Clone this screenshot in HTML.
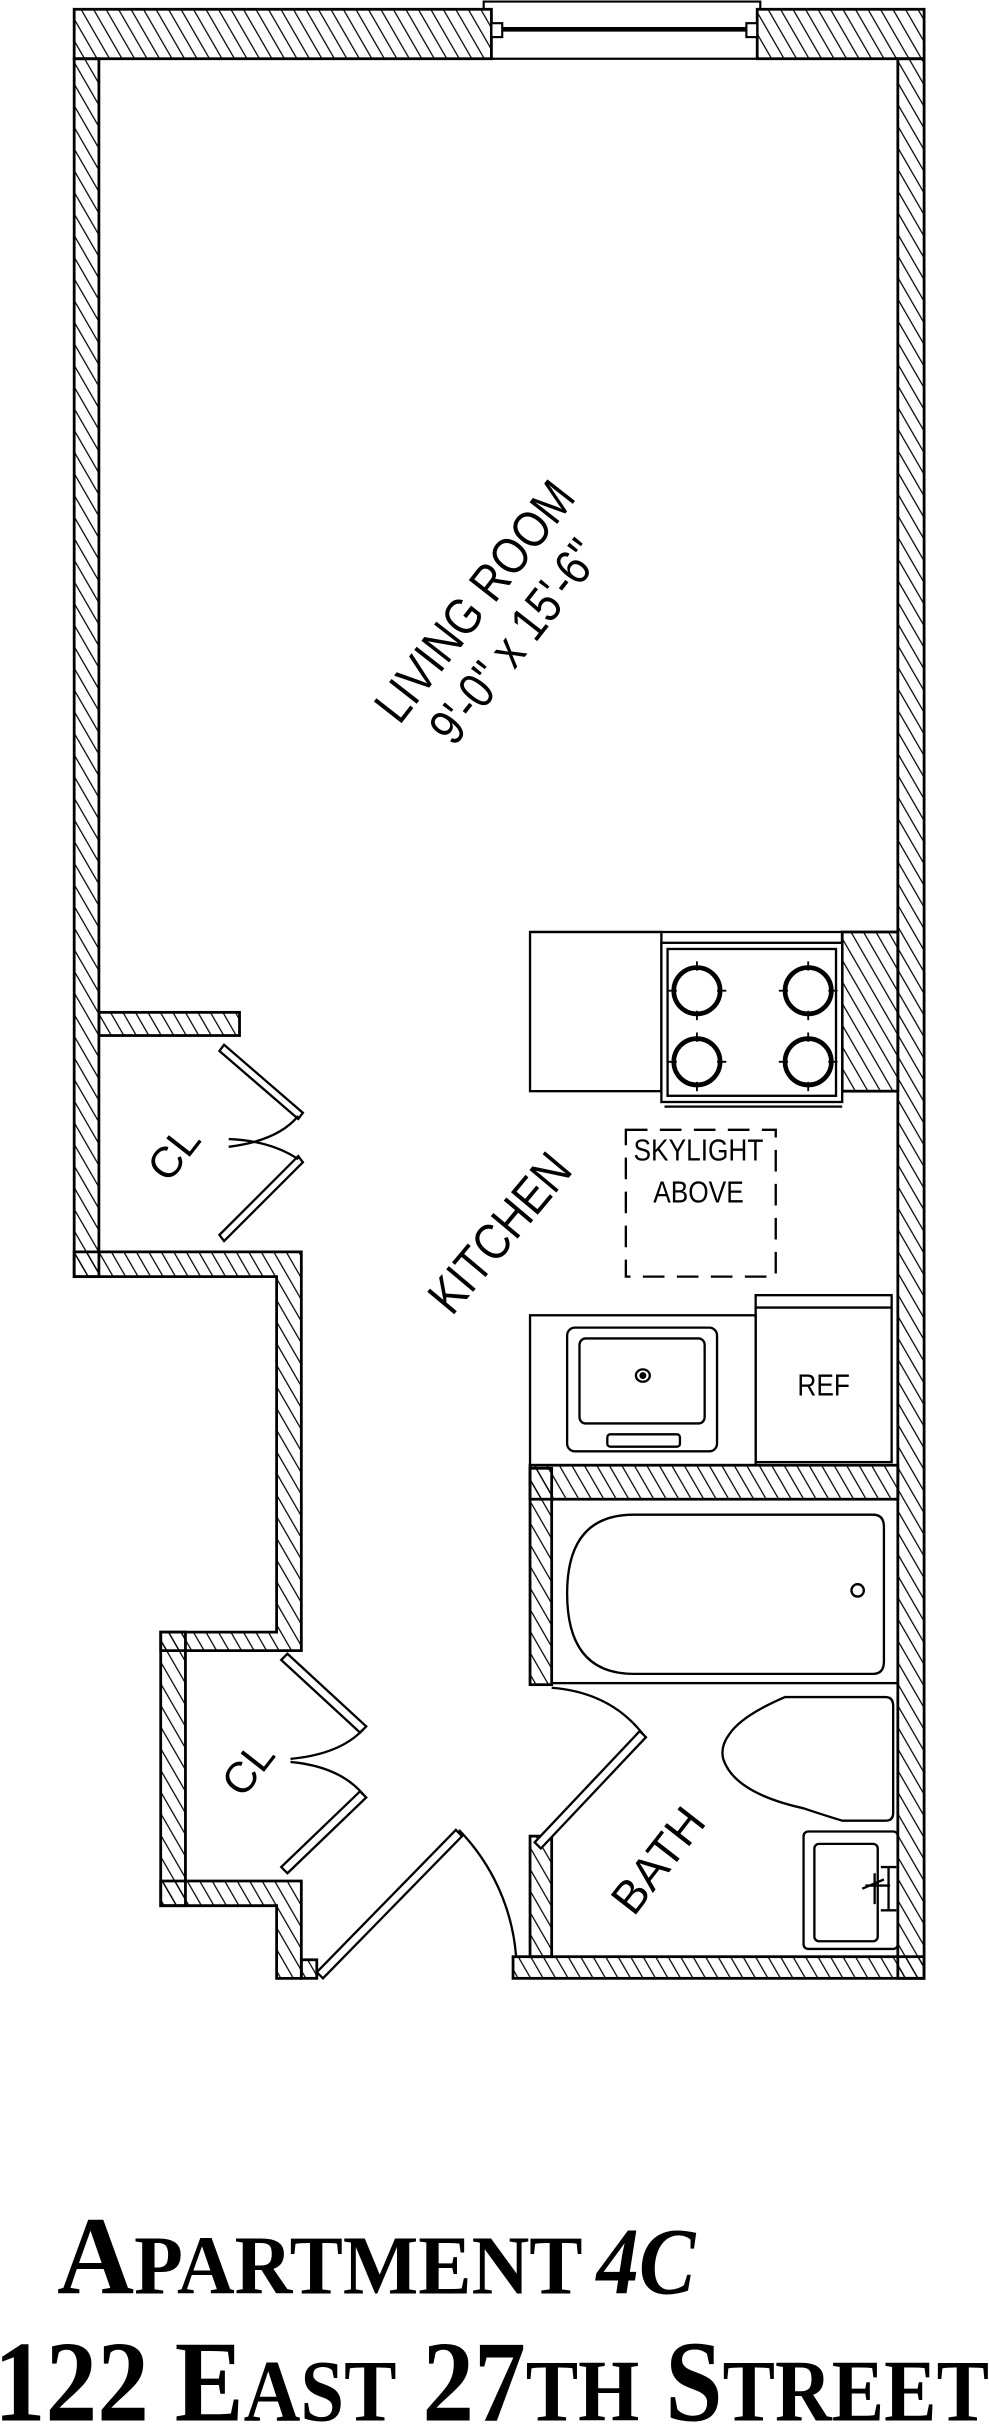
<!DOCTYPE html>
<html><head><meta charset="utf-8"><style>
html,body{margin:0;padding:0;background:#fff;}
svg{display:block;}
</style></head><body>
<svg width="989" height="2425" viewBox="0 0 640 1569" preserveAspectRatio="none" xmlns="http://www.w3.org/2000/svg">
<defs>
<pattern id="h" patternUnits="userSpaceOnUse" width="7" height="7" patternTransform="rotate(-30)">
<line x1="0" y1="0" x2="0" y2="7" stroke="#000" stroke-width="1.6"/>
</pattern>
</defs>
<rect width="640" height="1569" fill="#fff"/>
<g stroke="#000" stroke-width="1.8" fill="url(#h)">
<rect x="48" y="6" width="270" height="32"/>
<rect x="490" y="6" width="108" height="32"/>
<rect x="48" y="38" width="16" height="788"/>
<rect x="581" y="38" width="17" height="1242"/>
<rect x="64" y="655" width="91" height="15"/>
<path d="M48 810 H195 V1068 H104 V1056 H179 V826 H48 Z"/>
<rect x="104" y="1056" width="16" height="177"/>
<path d="M104 1217 H195 V1280 H179 V1233 H104 Z"/>
<rect x="195" y="1268" width="10" height="12"/>
<rect x="332" y="1266" width="266" height="14"/>
<rect x="343" y="950" width="14" height="140"/>
<rect x="343" y="1188" width="14" height="78"/>
<rect x="343" y="948" width="238" height="22"/>
<rect x="545" y="603" width="36" height="103"/>
</g>
<g stroke="#000" fill="none" stroke-width="1.4">
<path d="M313 6 V1 H492 V6"/>
<line x1="318" y1="38" x2="490" y2="38"/>
<line x1="318" y1="6" x2="318" y2="38"/>
<line x1="490" y1="6" x2="490" y2="38"/>
<line x1="325" y1="19" x2="483" y2="19" stroke-width="3"/>
<rect x="318" y="15" width="7" height="9" fill="#fff"/>
<rect x="483" y="15" width="7" height="9" fill="#fff"/>
</g>
<g stroke="#000" fill="none" stroke-width="1.5">
<rect x="343" y="603" width="85" height="103" fill="#fff"/>
<line x1="343" y1="603" x2="545" y2="603"/>
<rect x="428" y="610" width="117" height="103" fill="#fff"/>
<rect x="432" y="614" width="109" height="95"/>
<line x1="430" y1="716" x2="545" y2="716"/>
<g stroke-width="3">
<circle cx="451" cy="641" r="15"/><circle cx="523" cy="641" r="15"/>
<circle cx="451" cy="687" r="15"/><circle cx="523" cy="687" r="15"/>
</g>
<g stroke-width="1.2">
<path d="M451 622v6M451 654v6M432 641h6M464 641h6M523 622v6M523 654v6M504 641h6M536 641h6M451 668v6M451 700v6M432 687h6M464 687h6M523 668v6M523 700v6M504 687h6M536 687h6"/>
</g>
<rect x="405" y="731" width="97" height="95" stroke-dasharray="14 8"/>
<rect x="343" y="851" width="146" height="97"/>
<rect x="367" y="859" width="97" height="80" rx="5"/>
<rect x="375" y="866" width="81" height="55" rx="4"/>
<ellipse cx="416" cy="890" rx="4.5" ry="4"/>
<circle cx="416" cy="890" r="1.5" fill="#000"/>
<rect x="393" y="928" width="47" height="8" rx="2"/>
<rect x="489" y="838" width="88" height="108"/>
<line x1="489" y1="846" x2="577" y2="846"/>
<rect x="357" y="970" width="224" height="119"/>
<path d="M410 980 H565 Q572 980 572 988 V1075 Q572 1083 565 1083 H410 Q367 1083 367 1031 Q367 980 410 980 Z"/>
<ellipse cx="555" cy="1029" rx="4" ry="4"/>
<path d="M508 1098 H573 Q578 1098 578 1104 V1173 Q578 1178 573 1178 H545 Q535 1175 520 1170 Q475 1160 468 1138 Q466 1130 472 1122 Q480 1110 508 1098 Z"/>
<rect x="520" y="1185" width="61" height="76" rx="3"/>
<rect x="527" y="1193" width="41" height="63" rx="3"/>
<path d="M560 1220 H576 M566 1212 V1232 M575 1208 V1236 M570 1208 H580 M570 1236 H580 M558 1222 L572 1216"/>
<path d="M205 1276 L295 1184 L299 1188 L209 1280 Z" fill="#fff"/>
<path d="M297 1184 A132 132 0 0 1 334 1266"/>
<path d="M346 1192 L414 1120 L418 1124 L350 1196 Z" fill="#fff"/>
<path d="M357 1092 Q395 1095 416 1122"/>
<path d="M145 676 L196 720 L193 724 L142 680 Z" fill="#fff"/>
<path d="M145 803 L196 752 L193 748 L142 799 Z" fill="#fff"/>
<path d="M193 722 Q180 738 148 742 M193 750 Q175 738 148 737"/>
<path d="M186 1070 L237 1117 L233 1121 L182 1074 Z" fill="#fff"/>
<path d="M186 1212 L237 1163 L233 1159 L182 1208 Z" fill="#fff"/>
<path d="M235 1119 Q220 1135 188 1138 M235 1161 Q220 1143 188 1140"/>
</g>
<g font-family="Liberation Sans, sans-serif" fill="#000" text-anchor="middle">
<text transform="translate(316 396) rotate(-52) scale(0.85 1)" font-size="33">LIVING ROOM</text>
<text transform="translate(342 422) rotate(-52) scale(0.85 1)" font-size="33">9'-0" x 15'-6"</text>
<text transform="translate(332 805) rotate(-50) scale(0.85 1)" font-size="33">KITCHEN</text>
<text transform="translate(120 752) rotate(-52)" font-size="28">CL</text>
<text transform="translate(168 1150) rotate(-52)" font-size="28">CL</text>
<text transform="translate(434 1210) rotate(-52)" font-size="30">BATH</text>
<text font-size="20" transform="translate(452 751) scale(0.85 1)">SKYLIGHT</text>
<text font-size="20" transform="translate(452 778) scale(0.85 1)">ABOVE</text>
<text font-size="20" transform="translate(533 903) scale(0.85 1)">REF</text>
</g>
<g font-family="Liberation Serif, serif" font-weight="bold" fill="#000">
<text x="37" y="1484" font-size="72" textLength="340" lengthAdjust="spacingAndGlyphs">A<tspan font-size="54">PARTMENT</tspan></text>
<text x="386" y="1484" font-size="62" font-style="italic" textLength="64" lengthAdjust="spacingAndGlyphs">4C</text>
<text x="-4" y="1566" font-size="75" textLength="644" lengthAdjust="spacingAndGlyphs">122 E<tspan font-size="57">AST</tspan> 27<tspan font-size="57">TH</tspan> S<tspan font-size="57">TREET</tspan></text>
</g>
</svg>
</body></html>
